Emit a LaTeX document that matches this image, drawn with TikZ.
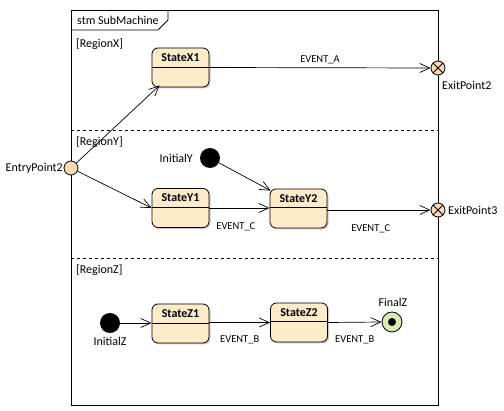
\documentclass[tikz,border=0pt]{standalone}
\usepackage{fontspec}
\setmainfont{Carlito}
\usetikzlibrary{arrows.meta,shadows}
\definecolor{statefill}{HTML}{FDEBC9}
\definecolor{pointfill}{HTML}{F8DAAE}
\definecolor{finalfill}{HTML}{D9EAB4}
\begin{document}
\begin{tikzpicture}[x=1pt,y=-1pt,
  font=\fontsize{12}{14}\selectfont,
  >={Straight Barb[length=10pt,width=9pt,line width=0.7pt]},
  conn/.style={draw,line width=0.7pt,->},
  statebox/.style={draw,line width=0.8pt,rounded corners=6pt,fill=statefill,minimum width=57pt,minimum height=39pt,inner sep=0pt,
     drop shadow={shadow xshift=1.5pt,shadow yshift=-1.5pt,fill=black!35,opacity=0.6}},
  statename/.style={font=\fontsize{12}{14}\selectfont\bfseries,inner sep=0pt},
  exitpt/.style={draw,circle,line width=0.8pt,fill=pointfill,minimum size=14pt,inner sep=0pt},
  initpt/.style={circle,fill=black,minimum size=20pt,inner sep=0pt},
  lbl/.style={inner sep=0pt},
  evt/.style={inner sep=0pt,font=\fontsize{10.5}{12}\selectfont}
]
\useasboundingbox (0,0) rectangle (504,411);
% frame
\node[draw,line width=0.8pt,minimum width=367pt,minimum height=395pt,inner sep=0pt] (frame) at (254.5,207.5) {};
\draw[line width=0.8pt] (71,30) -- (158,30) -- (168,20) -- (168,10);
\node[lbl,anchor=west] (title) at (77,20) {stm SubMachine};
% region separators
\coordinate (s1l) at (71,130); \coordinate (s1r) at (438,130);
\coordinate (s2l) at (71,258); \coordinate (s2r) at (438,258);
\draw[line width=0.8pt,dash pattern=on 3pt off 3pt] (s1l) -- (s1r);
\draw[line width=0.8pt,dash pattern=on 3pt off 3pt] (s2l) -- (s2r);
\node[lbl,anchor=west] (rx) at (76,44) {[RegionX]};
\node[lbl,anchor=west] (ry) at (76,142) {[RegionY]};
\node[lbl,anchor=west] (rz) at (76,270) {[RegionZ]};
% states
\node[statebox] (X1) at (180.5,67.5) {};
\node[statebox] (Y1) at (180.5,208) {};
\node[statebox] (Y2) at (298.5,208.5) {};
\node[statebox] (Z1) at (180.5,323.5) {};
\node[statebox] (Z2) at (299,322.5) {};
\foreach \s/\t/\d in {X1/StateX1/19.5, Y1/StateY1/19, Y2/StateY2/19, Z1/StateZ1/20, Z2/StateZ2/18.5}{
  \draw[line width=0.8pt] ([yshift=-\d pt]\s.north west) -- ([yshift=-\d pt]\s.north east);
  \node[statename] at ([yshift=-10pt]\s.north) {\t};
}
% pseudo states
\node[exitpt,fill=pointfill] (E) at (71,168) {};
\node[lbl,anchor=east] (El) at (63,168) {EntryPoint2};
\node[exitpt] (X2) at (438,68) {};
\draw[line width=0.8pt] (X2.north west) -- (X2.south east) (X2.north east) -- (X2.south west);
\node[lbl,anchor=west] (X2l) at (442,85) {ExitPoint2};
\node[exitpt] (X3) at (438,210) {};
\draw[line width=0.8pt] (X3.north west) -- (X3.south east) (X3.north east) -- (X3.south west);
\node[lbl,anchor=west] (X3l) at (448,210) {ExitPoint3};
\node[initpt] (IY) at (210,158) {};
\node[lbl,anchor=east] (IYl) at (193,158) {InitialY};
\node[initpt] (IZ) at (110,323) {};
\node[lbl] (IZl) at (110,341) {InitialZ};
\node[draw,circle,line width=0.8pt,fill=finalfill,minimum size=20pt,inner sep=0pt] (F) at (392,322) {};
\node[circle,fill=black,minimum size=8pt,inner sep=0pt] at (F) {};
\node[lbl] (Fl) at (393,302) {FinalZ};
% connectors
\draw[conn] (E) -- ([xshift=8pt,yshift=2pt]X1.south west);
\draw[conn] (E) -- (Y1.west);
\draw[conn] (X1.east) -- node[evt,above=3pt,pos=0.5]{EVENT\_A} (X2.west);
\draw[conn] (Y1.east) -- node[evt,below=14pt,pos=0.44]{EVENT\_C} (Y1.east -| Y2.west);
\draw[conn] (Y2.east |- X3) -- node[evt,below=14pt,pos=0.42]{EVENT\_C} (X3.west);
\draw[conn] (IY) -- ([xshift=1pt,yshift=-2pt]Y2.north west);
\draw[conn] (IZ) -- (IZ -| Z1.west);
\draw[conn] (Z1.east |- Z2) -- node[evt,below=13pt,pos=0.5]{EVENT\_B} (Z2.west);
\draw[conn] (Z2.east) -- node[evt,below=13pt,pos=0.5]{EVENT\_B} (F.west);
\end{tikzpicture}
\end{document}
